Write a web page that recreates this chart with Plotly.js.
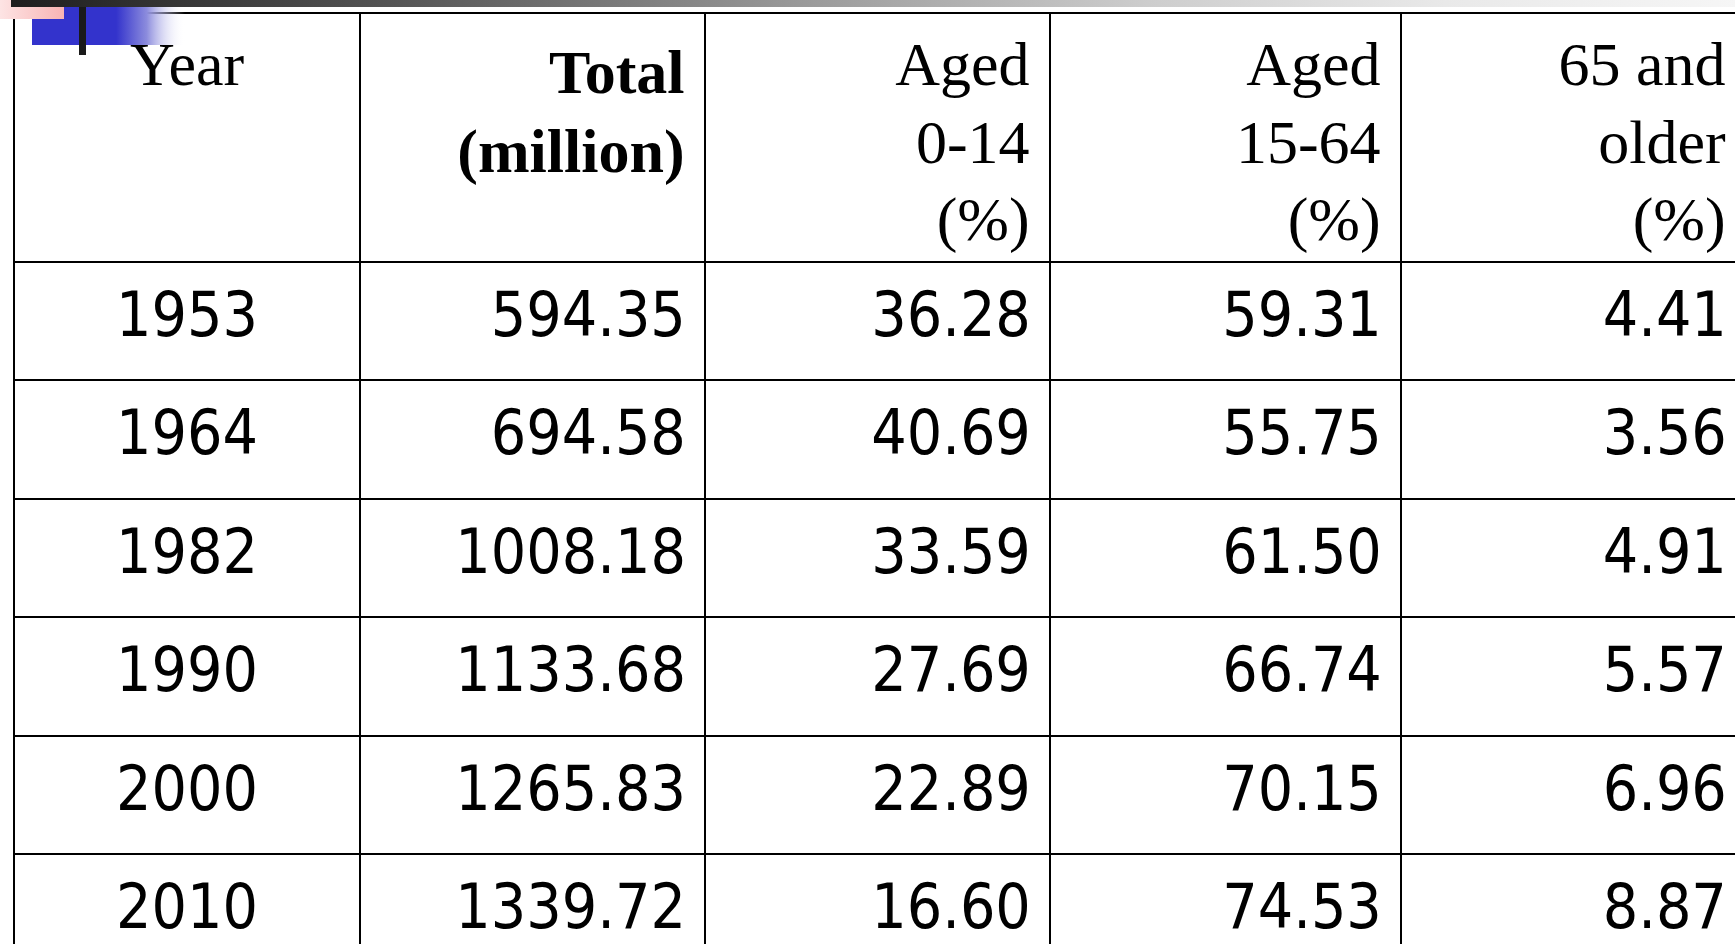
<!DOCTYPE html>
<html>
<head>
<meta charset="utf-8">
<script src="https://cdn.plot.ly/plotly-3.0.1.min.js"></script>
<style>
html,body{margin:0;padding:0;overflow:hidden;background:#fff;width:1735px;height:944px;}
#chart{width:1760px;height:1020px;}
</style>
</head>
<body>
<div id="chart"></div>
<script>
// ---- data ----
var headerLine1 = ["Year", "<b>Total</b>", "Aged", "Aged", "65\u00a0and"];
var headerLine2 = ["", "<b>(million)</b>", "0-14", "15-64", "older"];
var headerLine3 = ["", "", "(%)", "(%)", "(%)"];
var years      = [1953, 1964, 1982, 1990, 2000, 2010];
var totalMil   = [594.35, 694.58, 1008.18, 1133.68, 1265.83, 1339.72];
var aged0_14   = [36.28, 40.69, 33.59, 27.69, 22.89, 16.60];
var aged15_64  = [59.31, 55.75, 61.50, 66.74, 70.15, 74.53];
var aged65plus = [4.41, 3.56, 4.91, 5.57, 6.96, 8.87];

var THIN = "\u2009";
var W = 1760, H = 1020;
function dx(a, b) { return [a / W, b / W]; }
function dy(top, bottom) { return [1 - bottom / H, 1 - top / H]; }

var colW = [346, 345, 345, 351, 345];
var X0 = 14, X1 = 1746;
var GRID_TOP = 13, HEAD_H = 249, ROW_H = 118.4;
var clear = 'rgba(0,0,0,0)';
var ALIGN = ['center', 'right', 'right', 'right', 'right'];
var SERIF = 'Liberation Serif, "Times New Roman", serif';
var SANS = '"Liberation Sans Narrow", "DejaVu Sans Condensed", sans-serif';

// decoration svg (slide template ornament)
var svg = '<svg xmlns="http://www.w3.org/2000/svg" width="1760" height="60" viewBox="0 0 1760 60" preserveAspectRatio="none">' +
  '<defs>' +
  '<linearGradient id="bar" gradientUnits="userSpaceOnUse" x1="11" y1="0" x2="1760" y2="0">' +
    '<stop offset="0" stop-color="#1e1e1e"/><stop offset="0.22" stop-color="#555"/>' +
    '<stop offset="0.45" stop-color="#999"/><stop offset="0.65" stop-color="#cdcdcd"/>' +
    '<stop offset="0.82" stop-color="#e9e9e9"/><stop offset="1" stop-color="#f7f7f7"/></linearGradient>' +
  '<linearGradient id="pink" gradientUnits="userSpaceOnUse" x1="0" y1="0" x2="64" y2="0">' +
    '<stop offset="0" stop-color="#fde4e4"/><stop offset="1" stop-color="#f8b4b4"/></linearGradient>' +
  '<linearGradient id="blue" gradientUnits="userSpaceOnUse" x1="32" y1="0" x2="185" y2="0">' +
    '<stop offset="0" stop-color="#3333cc"/><stop offset="0.55" stop-color="#3333cc"/>' +
    '<stop offset="0.75" stop-color="#8c8cdd"/><stop offset="1" stop-color="#ffffff" stop-opacity="0"/></linearGradient>' +
  '</defs>' +
  '<rect x="0" y="0" width="64" height="19" fill="url(#pink)"/>' +
  '<rect x="11" y="0" width="1749" height="7" fill="url(#bar)"/>' +
  '<path d="M64 7 H185 V45 H32 V19 H64 Z" fill="url(#blue)"/>' +
  '<rect x="79" y="7" width="7" height="48" fill="#1a1a1a"/>' +
  '</svg>';
var svgURI = 'data:image/svg+xml;charset=utf-8,' + encodeURIComponent(svg);

var blank6 = years.map(function () { return ''; });

// grid (cell borders)
var gridTable = {
  type: 'table',
  columnwidth: colW,
  header: {
    values: ['', '', '', '', ''],
    height: HEAD_H,
    line: {color: '#000', width: 2},
    fill: {color: '#fff'},
    font: {size: 10}
  },
  cells: {
    values: [blank6, blank6, blank6, blank6, blank6],
    height: ROW_H,
    line: {color: '#000', width: 2},
    fill: {color: '#fff'},
    font: {size: 10}
  },
  domain: {x: dx(X0, X1), y: dy(GRID_TOP, 1012)}
};

// text layers: transparent tables whose first row starts at rowTop
var HB = 30; // hidden spacer header row
function textTable(cols, rowTop, rowH, nRows, font, opts) {
  var cells = {
    values: cols,
    align: ALIGN,
    height: rowH,
    line: {color: clear, width: 0},
    fill: {color: clear},
    font: font
  };
  for (var k in opts) cells[k] = opts[k];
  var top = rowTop - HB;
  return {
    type: 'table',
    columnwidth: colW,
    header: {
      values: ['', '', '', '', ''],
      height: HB,
      line: {color: clear, width: 0},
      fill: {color: clear},
      font: {size: 8, color: clear}
    },
    cells: cells,
    domain: {x: dx(X0, X1), y: dy(Math.max(0, top), Math.min(H, top + HB + rowH * nRows + 40))}
  };
}

var headFont = {family: SERIF, size: 62, color: '#000'};
var headSuffix = {suffix: ['', THIN, THIN, THIN, THIN]};
var head1 = textTable(headerLine1.map(function (v) { return [v]; }), 30, 78, 1, headFont, headSuffix);
var head2 = textTable(headerLine2.map(function (v) { return [v]; }), 108.5, 78, 1, headFont, headSuffix);
var head3 = textTable(headerLine3.map(function (v) { return [v]; }), 185, 78, 1, headFont, headSuffix);

var body = textTable([years, totalMil, aged0_14, aged15_64, aged65plus], 281.4, ROW_H, 6,
  {family: SANS, size: 62, color: '#000'},
  {format: ['', '.2f', '.2f', '.2f', '.2f'], suffix: ['', THIN, THIN, THIN, THIN]});

var layout = {
  width: W, height: H,
  margin: {l: 0, r: 0, t: 0, b: 0, pad: 0},
  paper_bgcolor: '#fff',
  showlegend: false,
  images: [{
    source: svgURI, xref: 'paper', yref: 'paper',
    x: 0, y: 1, sizex: 1, sizey: 60 / H,
    xanchor: 'left', yanchor: 'top', sizing: 'stretch', layer: 'above'
  }]
};

Plotly.newPlot('chart', [gridTable, head1, head2, head3, body], layout, {displayModeBar: false, staticPlot: true});
</script>
</body>
</html>
